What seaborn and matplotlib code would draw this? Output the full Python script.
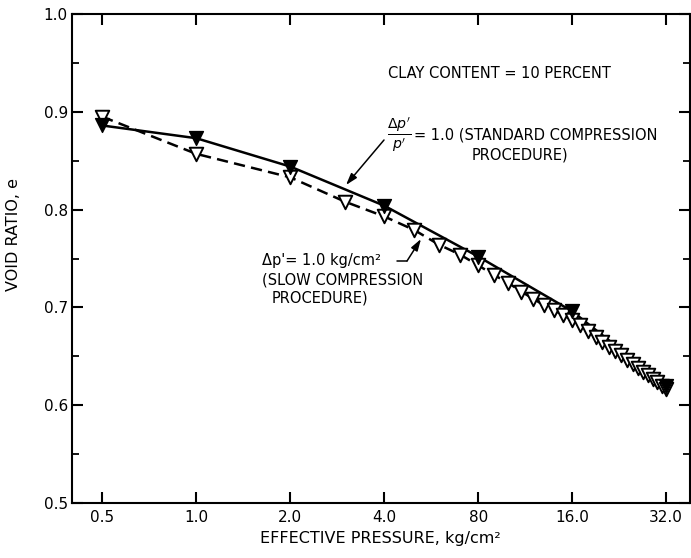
import matplotlib
matplotlib.use("Agg")
import matplotlib.pyplot as plt
import matplotlib.ticker as mticker
from matplotlib.lines import Line2D
import seaborn as sns
import pandas as pd

# ---- data ----
std_pressure = [0.5, 1.0, 2.0, 4.0, 8.0, 16.0, 32.0]
std_void = [0.886, 0.873, 0.844, 0.804, 0.752, 0.696, 0.620]

slow_pressure = [0.5] + [float(p) for p in range(1, 33)]
slow_void = [0.895, 0.857, 0.833, 0.808, 0.793, 0.779, 0.764, 0.754, 0.743,
             0.733, 0.725, 0.716, 0.709, 0.702, 0.697, 0.692, 0.687, 0.682,
             0.676, 0.670, 0.665, 0.660, 0.655, 0.651, 0.646, 0.642, 0.638,
             0.634, 0.631, 0.627, 0.624, 0.620, 0.617]

x_ticks = [0.5, 1.0, 2.0, 4.0, 8.0, 16.0, 32.0]
x_tick_labels = ["0.5", "1.0", "2.0", "4.0", "80", "16.0", "32.0"]
y_ticks = [0.5, 0.6, 0.7, 0.8, 0.9, 1.0]
y_tick_labels = ["0.5", "0.6", "0.7", "0.8", "0.9", "1.0"]

std_df = pd.DataFrame({"p": std_pressure, "e": std_void})
slow_df = pd.DataFrame({"p": slow_pressure, "e": slow_void})

sns.set_style("ticks")
plt.rcParams["font.family"] = ["DejaVu Sans"]
for k in ["text.color", "axes.labelcolor", "xtick.color", "ytick.color"]:
    plt.rcParams[k] = "black"

W, H = 691, 558
fig = plt.figure(figsize=(W / 100, H / 100), dpi=100)
ax = fig.add_axes([72 / W, 1 - 503 / H, (689.5 - 72) / W, (503 - 14) / H])

ax.set_xscale("log")

sns.lineplot(data=std_df, x="p", y="e", ax=ax, color="black", lw=1.8,
             zorder=2, estimator=None, sort=True)
sns.lineplot(data=slow_df, x="p", y="e", ax=ax, color="black", lw=1.8,
             dashes=False, zorder=2, estimator=None, sort=True)
ax.lines[-1].set_dashes((4.5, 2.5))

sns.scatterplot(data=slow_df, x="p", y="e", ax=ax, marker="v", s=95,
                facecolor="white", edgecolor="black", linewidth=1.4, zorder=3)
sns.scatterplot(data=std_df, x="p", y="e", ax=ax, marker="v", s=100,
                color="black", edgecolor="black", linewidth=1.0, zorder=4)

ax.set_xlim(0.4, 38)
ax.set_ylim(0.5, 1.0)
ax.set_xticks(x_ticks)
ax.set_xticklabels(x_tick_labels)
ax.xaxis.set_minor_locator(mticker.NullLocator())
ax.set_yticks(y_ticks)
ax.set_yticklabels(y_tick_labels)
ax.yaxis.set_minor_locator(mticker.MultipleLocator(0.05))

for s in ax.spines.values():
    s.set_linewidth(1.5)
    s.set_color("black")

ax.tick_params(axis="x", which="major", direction="in", length=8, width=1.5,
               top=True, bottom=True, labelsize=11, pad=5)
ax.tick_params(axis="y", which="major", direction="in", length=8, width=1.5,
               left=True, right=True, labelsize=11, pad=3)
ax.tick_params(axis="y", which="minor", direction="in", length=5, width=1.3,
               left=True, right=True)

ax.set_xlabel("EFFECTIVE PRESSURE, kg/cm²", fontsize=11.5, labelpad=4)
ax.set_ylabel("VOID RATIO, e", fontsize=11.5)
ax.yaxis.set_label_coords(-0.082, 0.55)


def fp(x, y):
    return (x / W, 1 - y / H)


tf = fig.transFigure
fs = 10.5
fig.text(*fp(388, 73), "CLAY CONTENT = 10 PERCENT", fontsize=fs,
         ha="left", va="center")
fig.text(*fp(387, 135), r"$\frac{\Delta p'}{p'}$", fontsize=fs + 4,
         ha="left", va="center")
fig.text(*fp(414, 135), "= 1.0 (STANDARD COMPRESSION", fontsize=fs,
         ha="left", va="center")
fig.text(*fp(472, 155), "PROCEDURE)", fontsize=fs, ha="left", va="center")

fig.text(*fp(262, 261), "Δp'= 1.0 kg/cm²", fontsize=fs, ha="left",
         va="center")
fig.text(*fp(262, 280), "(SLOW COMPRESSION", fontsize=fs, ha="left",
         va="center")
fig.text(*fp(272, 298), "PROCEDURE)", fontsize=fs, ha="left", va="center")

arrow_kw = dict(arrowstyle="-|>,head_length=0.7,head_width=0.22",
                color="black", lw=1.1, shrinkA=0, shrinkB=0)
ax.annotate("", xy=fp(346, 185), xycoords=tf, xytext=fp(384, 140),
            textcoords=tf, arrowprops=arrow_kw)
fig.add_artist(Line2D([397 / W, 407 / W], [1 - 261 / H, 1 - 261 / H],
                      color="black", lw=1.1, transform=tf))
ax.annotate("", xy=fp(421, 239), xycoords=tf, xytext=fp(407, 261),
            textcoords=tf, arrowprops=arrow_kw)

fig.savefig("out.png", dpi=100)
